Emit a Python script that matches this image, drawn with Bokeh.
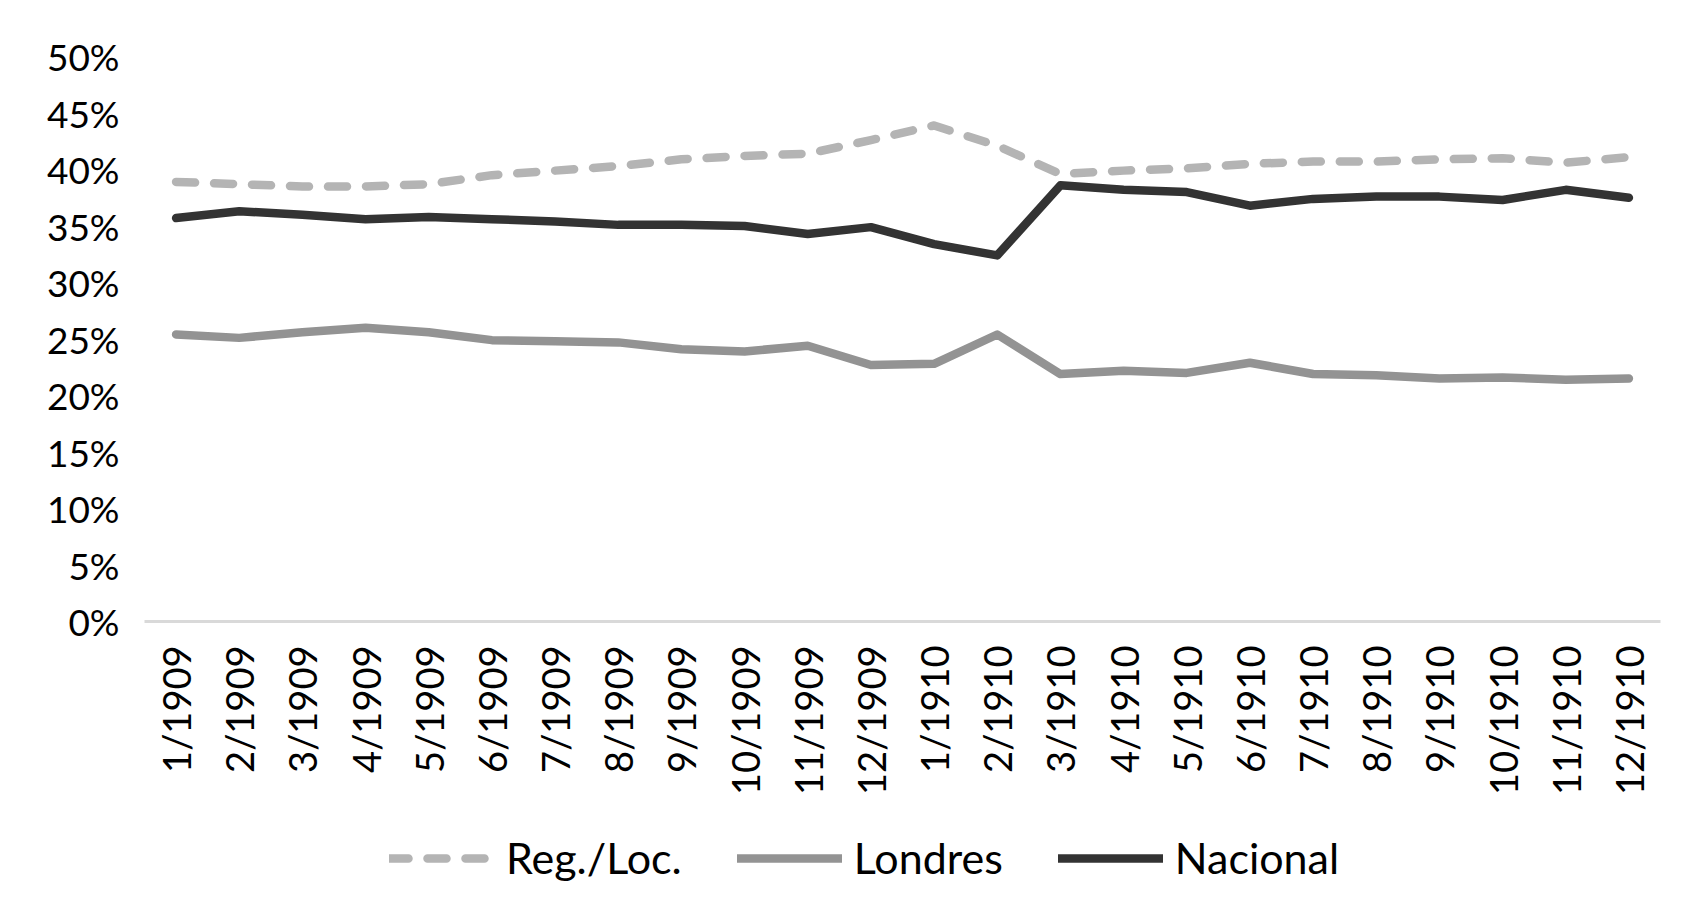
import math
from bokeh.plotting import figure
from bokeh.layouts import column
from bokeh.models import Range1d, FixedTicker, NumeralTickFormatter, Legend, LegendItem, FactorRange
from bokeh.embed import file_html
from bokeh.resources import INLINE

months = ["1/1909", "2/1909", "3/1909", "4/1909", "5/1909", "6/1909", "7/1909", "8/1909",
          "9/1909", "10/1909", "11/1909", "12/1909", "1/1910", "2/1910", "3/1910", "4/1910",
          "5/1910", "6/1910", "7/1910", "8/1910", "9/1910", "10/1910", "11/1910", "12/1910"]

# values in percent
reg_loc = [38.9, 38.7, 38.5, 38.5, 38.7, 39.5, 39.9, 40.3, 40.9, 41.2, 41.4, 42.6,
           43.9, 42.1, 39.6, 39.9, 40.1, 40.5, 40.7, 40.7, 40.9, 41.0, 40.6, 41.1]
londres = [25.4, 25.1, 25.6, 26.0, 25.6, 24.9, 24.8, 24.7, 24.1, 23.9, 24.4, 22.7,
           22.8, 25.4, 21.9, 22.2, 22.0, 22.9, 21.9, 21.8, 21.5, 21.6, 21.4, 21.5]
nacional = [35.7, 36.3, 36.0, 35.6, 35.8, 35.6, 35.4, 35.1, 35.1, 35.0, 34.3, 34.9,
            33.4, 32.4, 38.6, 38.2, 38.0, 36.8, 37.4, 37.6, 37.6, 37.3, 38.2, 37.5]

series_names = ["Reg./Loc.", "Londres", "Nacional"]
y_ticks = [0.0, 0.05, 0.10, 0.15, 0.20, 0.25, 0.30, 0.35, 0.40, 0.45, 0.50]

FONT = "Lato"
COLORS = ["#b4b4b4", "#939393", "#333333"]
DASHES = ["19 19", "solid", "solid"]
LW = 8.5
series = [reg_loc, londres, nacional]

p = figure(x_range=FactorRange(*months), y_range=Range1d(0, 0.5),
           width=1673, height=811, output_backend="svg", toolbar_location=None,
           min_border_left=144, min_border_right=13, min_border_top=56, min_border_bottom=190)
p.outline_line_color = None
p.xgrid.grid_line_color = None
p.ygrid.grid_line_color = None

for vals, c, d in zip(series, COLORS, DASHES):
    p.line(months, [v / 100 for v in vals], line_color=c, line_width=LW,
           line_dash=d, line_cap="round", line_join="round")

yax = p.yaxis[0]
yax.ticker = FixedTicker(ticks=y_ticks)
yax.formatter = NumeralTickFormatter(format="0%")
yax.axis_line_color = None
yax.major_tick_line_color = None
yax.minor_tick_line_color = None
yax.major_tick_out = 0
yax.major_label_standoff = 25
yax.major_label_text_font = FONT
yax.major_label_text_font_size = "37px"
yax.major_label_text_color = "#000000"

xax = p.xaxis[0]
xax.axis_line_color = "#d9d9d9"
xax.axis_line_width = 3
xax.major_tick_line_color = None
xax.minor_tick_line_color = None
xax.major_tick_out = 0
xax.major_label_orientation = math.pi / 2
xax.major_label_standoff = 24
xax.major_label_text_font = FONT
xax.major_label_text_font_size = "38px"
xax.major_label_text_color = "#000000"

# legend strip below the chart (series drawn out of view, only legend shows)
lg = figure(width=1673, height=100, output_backend="svg", toolbar_location=None,
            x_range=FactorRange(*months), y_range=Range1d(2, 3),
            x_axis_type=None, y_axis_type=None,
            min_border_left=0, min_border_right=0, min_border_top=0, min_border_bottom=0)
lg.outline_line_color = None
lg.xgrid.grid_line_color = None
lg.ygrid.grid_line_color = None
items = []
for name, vals, c, d in zip(series_names, series, COLORS, DASHES):
    r = lg.line(months, [v / 100 for v in vals], line_color=c, line_width=LW, line_dash=d,
                line_cap="round", line_join="round")
    items.append(LegendItem(label=name, renderers=[r]))

legend = Legend(items=items, orientation="horizontal", location=(245, 28),
                glyph_width=105, glyph_height=12, label_standoff=12, spacing=55,
                padding=0, margin=0,
                label_text_font=FONT, label_text_font_size="43px", label_text_color="#000000",
                border_line_color=None, background_fill_alpha=0)
lg.add_layout(legend, "center")

layout = column(p, lg, spacing=0)
open("out.html", "w").write(file_html(layout, INLINE))
